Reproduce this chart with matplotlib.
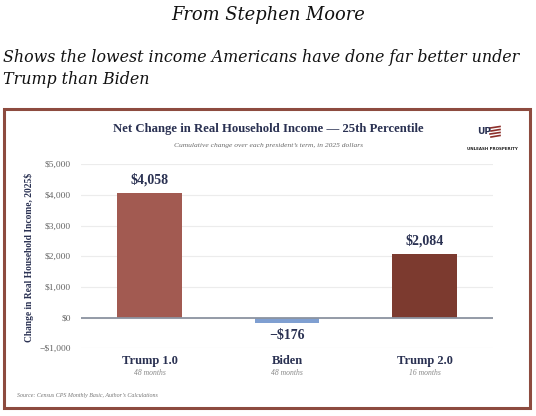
import matplotlib
matplotlib.use("Agg")
import matplotlib.pyplot as plt
from matplotlib.patches import Rectangle
from matplotlib.lines import Line2D
from matplotlib.ticker import FuncFormatter

categories = ["Trump 1.0", "Biden", "Trump 2.0"]
terms = ["48 months", "48 months", "16 months"]
values = [4058, -176, 2084]
value_labels = ["$4,058", "\u2212$176", "$2,084"]
yticks = [-1000, 0, 1000, 2000, 3000, 4000, 5000]
bar_colors = ["#a25a51", "#7f9fd1", "#7c3a2f"]

W, H = 536, 416
fig = plt.figure(figsize=(W / 100, H / 100), dpi=100)
fig.patch.set_facecolor("white")
renderer = fig.canvas.get_renderer()

NAVY = "#2a3152"
FRAME = "#8d4b3f"
SERIF = ["Liberation Serif", "DejaVu Serif"]

def fx(x):
    return x / W

def fy(y):
    return 1 - y / H

def fit(t, target_px, horizontal=True):
    bb = t.get_window_extent(renderer=renderer)
    cur = bb.width if horizontal else bb.height
    t.set_fontsize(t.get_fontsize() * target_px / cur)
    return t

# header texts
fit(fig.text(fx(268), fy(15), "From Stephen Moore", ha="center", va="center",
             family="DejaVu Serif", style="italic", fontsize=13.5, color="#111111"), 194)
l1 = fit(fig.text(fx(3), fy(57), "Shows the lowest income Americans have done far better under",
                  ha="left", va="center", family="DejaVu Serif", style="italic", fontsize=12,
                  color="#111111"), 514)
fig.text(fx(3), fy(79), "Trump than Biden", ha="left", va="center", family="DejaVu Serif",
         style="italic", fontsize=l1.get_fontsize(), color="#111111")

# frame
fig.add_artist(Rectangle((fx(3.5), fy(408)), fx(526) - fx(0), fy(109) - fy(408),
                         transform=fig.transFigure, fill=False, edgecolor=FRAME, linewidth=2.2))

# chart title/subtitle
fit(fig.text(fx(268), fy(129), "Net Change in Real Household Income \u2014 25th Percentile",
             ha="center", va="center", family=SERIF, weight="bold", fontsize=10.5, color=NAVY), 312)
fit(fig.text(fx(268), fy(145.5), "Cumulative change over each president\u2019s term, in 2025 dollars",
             ha="center", va="center", family=SERIF, style="italic", fontsize=6.3, color="#6b6b6b"), 187)

# logo
fig.text(fx(484), fy(132), "UP", ha="center", va="center", family="DejaVu Sans",
         weight="bold", fontsize=6.5, color=NAVY)
for i, yy in enumerate([128, 131, 134, 137]):
    fig.add_artist(Line2D([fx(490 + (i % 2)), fx(500)], [fy(yy), fy(yy - 1.5)],
                          transform=fig.transFigure, color="#8d2f2a", linewidth=1.2))
fit(fig.text(fx(492), fy(149), "UNLEASH PROSPERITY", ha="center", va="center",
             family="DejaVu Sans", weight="bold", fontsize=4.2, color="#222222"), 50)

# axes
ax = fig.add_axes([fx(80.7), fy(348.3), fx(493.3) - fx(80.7), fy(164.3) - fy(348.3)])
ax.set_xlim(-0.5, 2.5)
ax.set_ylim(-1000, 5000)
x = range(len(categories))
ax.bar(x, values, width=0.47, color=bar_colors, zorder=3)
ax.axhline(0, color="#8c93a0", linewidth=1.3, zorder=4)
ax.set_yticks(yticks)
ax.yaxis.set_major_formatter(FuncFormatter(lambda v, p: ("\u2212$" if v < 0 else "$") + f"{abs(int(v)):,}"))
ax.grid(axis="y", color="#ececec", linewidth=0.8, zorder=0)
ax.tick_params(axis="y", length=0, pad=7, labelsize=6.8, labelcolor="#666666")
for lbl in ax.get_yticklabels():
    lbl.set_family(SERIF)
ax.set_xticks([])
for s in ax.spines.values():
    s.set_visible(False)
ax.set_facecolor("none")

for i, (v, t) in enumerate(zip(values, value_labels)):
    off = 4.5 if v >= 0 else -4.5
    ax.annotate(t, (i, v), xytext=(0, off), textcoords="offset points",
                ha="center", va="bottom" if v >= 0 else "top",
                family=SERIF, weight="bold", fontsize=10, color=NAVY)

for i, (c, t) in enumerate(zip(categories, terms)):
    ax.annotate(c, (i, -1000), xytext=(0, -9.5), textcoords="offset points",
                ha="center", va="center", family=SERIF, weight="bold", fontsize=9, color=NAVY,
                annotation_clip=False)
    ax.annotate(t, (i, -1000), xytext=(0, -17.5), textcoords="offset points",
                ha="center", va="center", family=SERIF, style="italic", fontsize=5.5, color="#888888",
                annotation_clip=False)

fit(fig.text(fx(29), fy(257), "Change in Real Household Income, 2025$", rotation=90,
             ha="center", va="center", family=SERIF, weight="bold", fontsize=7.4, color=NAVY),
    170, horizontal=False)

fig.text(fx(17), fy(396), "Source: Census CPS Monthly Basic, Author\u2019s Calculations",
         ha="left", va="center", family=SERIF, style="italic", fontsize=4.3, color="#777777")

fig.savefig("out.png", dpi=100, facecolor="white")
